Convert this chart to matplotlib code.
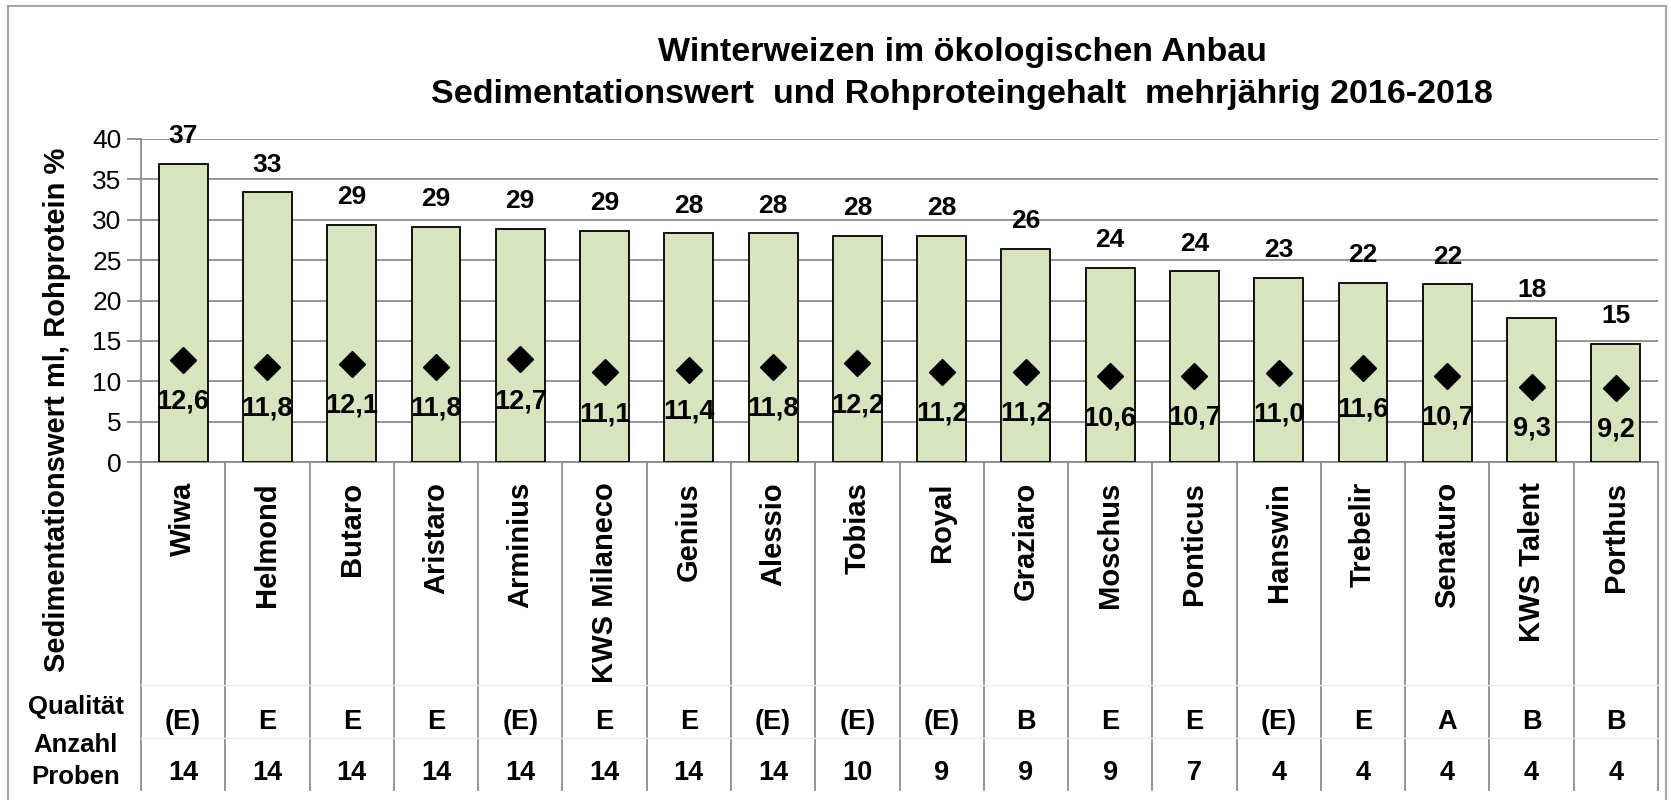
import matplotlib.pyplot as plt
import matplotlib.transforms as mtransforms
from matplotlib.patches import Rectangle

sorten = ['Wiwa', 'Helmond', 'Butaro', 'Aristaro', 'Arminius', 'KWS Milaneco', 'Genius',
          'Alessio', 'Tobias', 'Royal', 'Graziaro', 'Moschus', 'Ponticus', 'Hanswin',
          'Trebelir', 'Senaturo', 'KWS Talent', 'Porthus']
sedimentation = [36.9, 33.4, 29.4, 29.1, 28.9, 28.6, 28.3, 28.3, 28.0, 28.0,
                 26.4, 24.0, 23.6, 22.8, 22.2, 22.0, 17.8, 14.6]
rohprotein = [12.6, 11.8, 12.1, 11.8, 12.7, 11.1, 11.4, 11.8, 12.2, 11.2,
              11.2, 10.6, 10.7, 11.0, 11.6, 10.7, 9.3, 9.2]
qualitaet = ['(E)', 'E', 'E', 'E', '(E)', 'E', 'E', '(E)', '(E)', '(E)',
             'B', 'E', 'E', '(E)', 'E', 'A', 'B', 'B']
anzahl = [14, 14, 14, 14, 14, 14, 14, 14, 10, 9, 9, 9, 7, 4, 4, 4, 4, 4]

plt.rcParams['font.family'] = ['Liberation Sans', 'DejaVu Sans']
grid_col = '#8C8C8C'

fig = plt.figure(figsize=(16.71, 8.0), dpi=100)
ax = fig.add_axes([141/1671, 1-462/800, (1658-141)/1671, 323/800])

x = list(range(len(sorten)))
ax.bar(x, sedimentation, width=0.58, color='#D7E4BD', edgecolor='black', linewidth=1.3, zorder=3)
ax.plot(x, rohprotein, linestyle='none', marker='D', markersize=13.5, color='black', zorder=4)

for i in x:
    ax.annotate(f'{sedimentation[i]:.0f}', (i, sedimentation[i]), xytext=(0, 20),
                textcoords='offset points', ha='center', va='center',
                fontsize=19, fontweight='bold', annotation_clip=False)
    ax.annotate(f'{rohprotein[i]:.1f}'.replace('.', ','), (i, rohprotein[i]), xytext=(0, -30),
                textcoords='offset points', ha='center', va='center',
                fontsize=19.5, fontweight='bold', zorder=5)

ax.set_xlim(-0.5, len(sorten) - 0.5)
ax.set_ylim(0, 40)
ax.set_yticks(range(0, 41, 5))
ax.tick_params(axis='y', labelsize=19, length=10, width=1.3, color=grid_col, pad=4)
ax.tick_params(axis='x', length=0, labelbottom=False)
ax.grid(axis='y', color=grid_col, linewidth=1.3, zorder=0)
for s in ['top', 'right']:
    ax.spines[s].set_visible(False)
for s in ['left', 'bottom']:
    ax.spines[s].set_color(grid_col)
    ax.spines[s].set_linewidth(1.3)

# table below the axis
trans = mtransforms.blended_transform_factory(ax.transData, ax.transAxes)
for k in range(len(sorten) + 1):
    ax.plot([k - 0.5, k - 0.5], [0, -1.015], transform=trans, color=grid_col,
            linewidth=1.3, clip_on=False)
for yy in [-0.69, -0.854]:
    ax.plot([-0.5, len(sorten) - 0.5], [yy, yy], transform=trans, color='#EBEBEB',
            linewidth=1, clip_on=False)
for i in x:
    ax.text(i, -0.062, sorten[i], transform=trans, rotation=90, ha='center', va='top',
            fontsize=21, fontweight='bold')
    ax.text(i, -0.805, qualitaet[i], transform=trans, ha='center', va='center',
            fontsize=19.5, fontweight='bold')
    ax.text(i, -0.963, str(anzahl[i]), transform=trans, ha='center', va='center',
            fontsize=19.5, fontweight='bold')

fig.text(76/1671, 1-707/800, 'Qualität', ha='center', va='center', fontsize=18.5, fontweight='bold')
fig.text(76/1671, 1-745/800, 'Anzahl', ha='center', va='center', fontsize=18.5, fontweight='bold')
fig.text(76/1671, 1-777/800, 'Proben', ha='center', va='center', fontsize=18.5, fontweight='bold')

fig.text(57/1671, 1-410/800, 'Sedimentationswert ml, Rohprotein %', rotation=90,
         ha='center', va='center', fontsize=21, fontweight='bold')

fig.text(962/1671, 1-52/800, 'Winterweizen im ökologischen Anbau', ha='center', va='center',
         fontsize=24.5, fontweight='bold')
fig.text(962/1671, 1-94/800, 'Sedimentationswert  und Rohproteingehalt  mehrjährig 2016-2018',
         ha='center', va='center', fontsize=24.5, fontweight='bold')

fig.patches.append(Rectangle((8/1671, -0.01), (1666-8)/1671, 1.01-6/800, transform=fig.transFigure,
                             fill=False, edgecolor='#A6A6A6', linewidth=1.5))

fig.savefig('out.png', dpi=100)
